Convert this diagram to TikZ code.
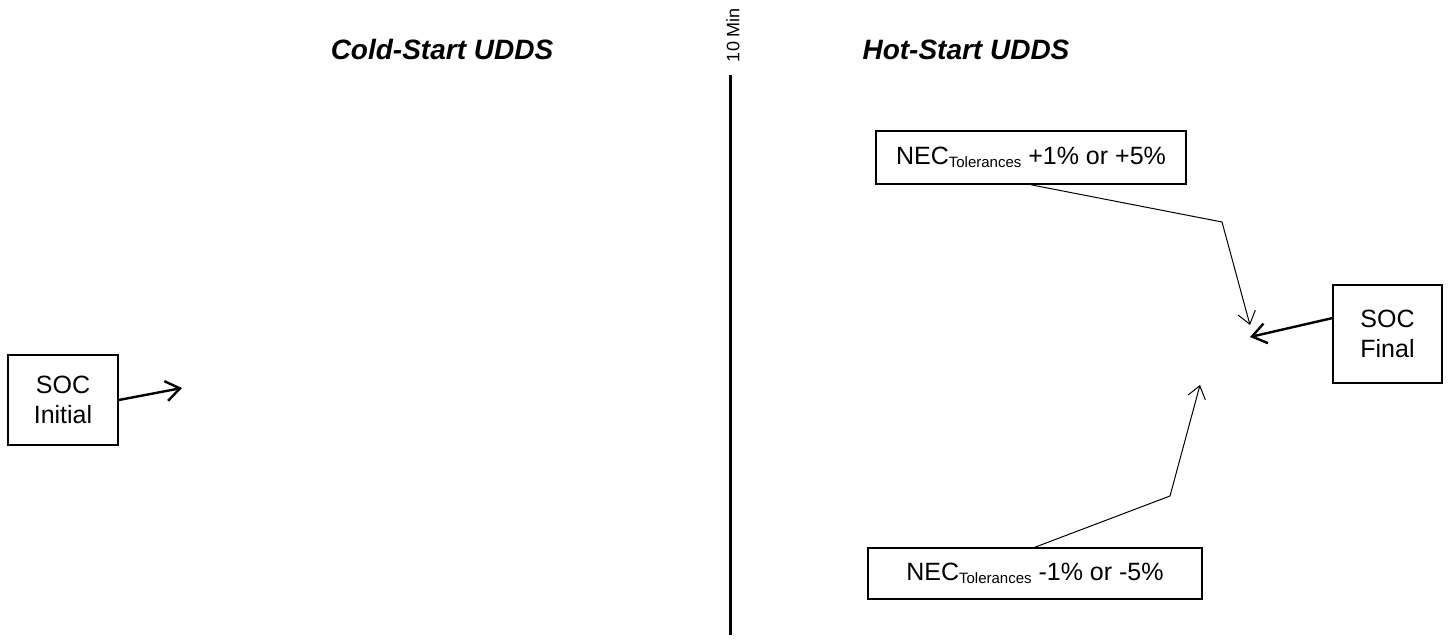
\documentclass[tikz,border=0pt]{standalone}
\usepackage{fontspec}
\setmainfont{Liberation Sans}
\usetikzlibrary{arrows.meta}

\begin{document}
\begin{tikzpicture}[x=.5pt,y=-.5pt,
  box/.style={draw, line width=.8pt, align=center, inner sep=0pt, font=\fontsize{12.5}{15}\selectfont},
  thinarrow/.style={line width=.5pt, -{Straight Barb[length=6pt,width=9pt]}},
  thickarrow/.style={line width=1.2pt, -{Straight Barb[length=7pt,width=10pt]}},
  phase/.style={font=\fontsize{14}{16}\selectfont\bfseries\itshape}]
\useasboundingbox (0,0) rectangle (1448,641);
% titles and soak line
\node[phase] (cold) at (442,50) {Cold-Start UDDS};
\node[phase] (hot) at (966,50) {Hot-Start UDDS};
\node[rotate=90, font=\fontsize{9}{11}\selectfont] (soak) at (733,35) {10 Min};
\coordinate (soaktop) at (730,75);
\coordinate (soakbot) at (730,635);
\draw[line width=1.5pt] (soaktop) -- (soakbot);
% boxes
\node[box, minimum width=55pt, minimum height=45pt] (socinit) at (63,400) {SOC\\Initial};
\node[box, minimum width=54.5pt, minimum height=49pt] (socfinal) at (1387.5,334) {SOC\\Final};
\node[box, minimum width=155pt, minimum height=26.5pt] (necplus) at (1031,157.5)
  {NEC\raisebox{-1.5pt}{\fontsize{7.5}{9}\selectfont Tolerances} +1\% or +5\%};
\node[box, minimum width=167pt, minimum height=25.5pt] (necminus) at (1035,573.5)
  {NEC\raisebox{-1.5pt}{\fontsize{7.5}{9}\selectfont Tolerances} -1\% or -5\%};
% arrows
\coordinate (inittip) at (182,388);
\coordinate (finaltip) at (1250,337);
\coordinate (plusbend) at (1222,222);
\coordinate (plustip) at (1250,325);
\coordinate (minusbend) at (1170,496);
\coordinate (minustip) at (1200,385);
\draw[thickarrow] (socinit.east) -- (inittip);
\draw[thickarrow] (socfinal.164) -- (finaltip);
\draw[thinarrow] (necplus.south) -- (plusbend) -- (plustip);
\draw[thinarrow] (necminus.north) -- (minusbend) -- (minustip);
\end{tikzpicture}
\end{document}
